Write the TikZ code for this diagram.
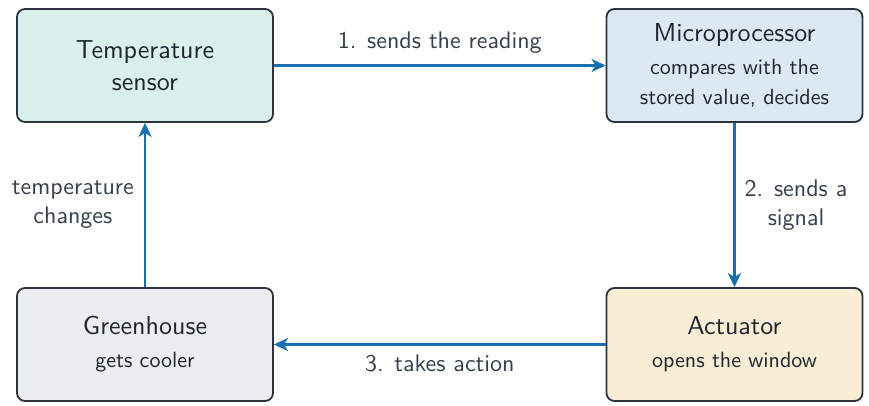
\documentclass[tikz,border=0pt]{standalone}
\usepackage{fontspec}
\setsansfont{lmsans10-regular.otf}
\usetikzlibrary{arrows.meta,calc}
\definecolor{boxline}{HTML}{2B3440}
\definecolor{txt}{HTML}{1E2630}
\definecolor{lbl}{HTML}{36404C}
\definecolor{arr}{HTML}{1570AF}
\definecolor{fsensor}{HTML}{DAF0EA}
\definecolor{fmicro}{HTML}{DCE9F3}
\definecolor{fgreen}{HTML}{ECEDF0}
\definecolor{fact}{HTML}{FAEDD5}
\newcommand{\ttl}{\fontsize{26}{30}\selectfont}
\newcommand{\sbt}{\fontsize{22}{30}\selectfont}
\tikzset{
  box/.style={draw=boxline, line width=1.8pt, rounded corners=8pt, minimum width=256pt, minimum height=113pt, align=center, text=txt, inner sep=0pt, font=\sffamily\fontsize{22}{30}\selectfont},
  conn/.style={draw=arr, line width=2.6pt, -{Stealth[length=14pt,width=13pt,inset=4pt]}},
  lab/.style={text=lbl, font=\sffamily\fontsize{24}{29}\selectfont, align=center, inner sep=0pt}
}
\begin{document}
\begin{tikzpicture}[x=1pt,y=-1pt]
\useasboundingbox (0,0) rectangle (869,405);
\node[box, fill=fsensor] (sensor) at (145,65.5) {\ttl Temperature\\[2pt] \ttl sensor};
\node[box, fill=fmicro] (micro) at (734.5,65.5) {\ttl Microprocessor\\[3pt] \sbt compares with the\\ \sbt stored value, decides};
\node[box, fill=fgreen] (green) at (145,344.5) {\ttl Greenhouse\\[3pt] \sbt gets cooler};
\node[box, fill=fact] (act) at (734.5,344.5) {\ttl Actuator\\[3pt] \sbt opens the window};
\draw[conn] (sensor.east) -- (micro.west);
\draw[conn] (micro.south) -- (act.north);
\draw[conn] (act.west) -- (green.east);
\draw[conn] (green.north) -- (sensor.south);
\node[lab, anchor=base] (l1) at ($(sensor.east)!0.5!(micro.west)+(0,-17)$) {1. sends the reading};
\node[lab, anchor=west] (l2) at ($(micro.south)!0.5!(act.north)+(10,0)$) {2. sends a\\signal};
\node[lab, anchor=base] (l3) at ($(act.west)!0.5!(green.east)+(0,27)$) {3. takes action};
\node[lab, anchor=east] (l4) at ($(green.north)!0.5!(sensor.south)+(-11,0)$) {temperature\\changes};
\end{tikzpicture}
\end{document}
